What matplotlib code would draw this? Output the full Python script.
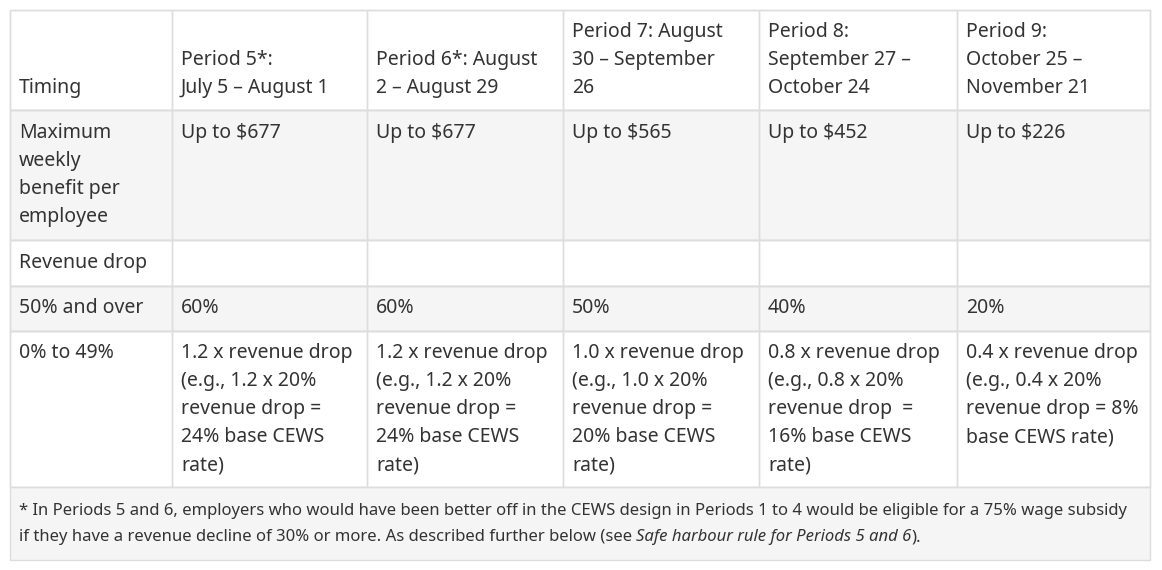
import matplotlib.pyplot as plt
from matplotlib.patches import Rectangle

headers = [['Timing'],
           ['Period 5*:', 'July 5 – August 1'],
           ['Period 6*: August', '2 – August 29'],
           ['Period 7: August', '30 – September', '26'],
           ['Period 8:', 'September 27 –', 'October 24'],
           ['Period 9:', 'October 25 –', 'November 21']]

row_labels = [['Maximum', 'weekly', 'benefit per', 'employee'],
              ['Revenue drop'],
              ['50% and over'],
              ['0% to 49%']]

max_benefit = ['Up to $677', 'Up to $677', 'Up to $565', 'Up to $452', 'Up to $226']
rate_over_50 = ['60%', '60%', '50%', '40%', '20%']
rate_under_50 = [
    ['1.2 x revenue drop', '(e.g., 1.2 x 20%', 'revenue drop =', '24% base CEWS', 'rate)'],
    ['1.2 x revenue drop', '(e.g., 1.2 x 20%', 'revenue drop =', '24% base CEWS', 'rate)'],
    ['1.0 x revenue drop', '(e.g., 1.0 x 20%', 'revenue drop =', '20% base CEWS', 'rate)'],
    ['0.8 x revenue drop', '(e.g., 0.8 x 20%', 'revenue drop  =', '16% base CEWS', 'rate)'],
    ['0.4 x revenue drop', '(e.g., 0.4 x 20%', 'revenue drop = 8%', 'base CEWS rate)'],
]

footer_line1 = ('* In Periods 5 and 6, employers who would have been better off in the CEWS design '
                'in Periods 1 to 4 would be eligible for a 75% wage subsidy')
footer_line2 = [('if they have a revenue decline of 30% or more. As described further below (see ', 'normal'),
                ('Safe harbour rule for Periods 5 and 6', 'italic'),
                (').', 'normal')]

col_x = [10, 172, 367, 563, 759, 957, 1150]
row_y = [10, 110, 240, 286, 331, 487, 560]
row_fill = ['white', '#f5f5f5', 'white', '#f5f5f5', 'white', '#f5f5f5']
border = '#dddddd'
ink = '#333333'
font = 'Noto Sans'
line_h = 28
body_size = 14.0
foot_size = 12.0

fig = plt.figure(figsize=(11.62, 5.70), dpi=100)
ax = fig.add_axes([0, 0, 1, 1])
ax.set_xlim(0, 1162)
ax.set_ylim(570, 0)
ax.axis('off')

for r in range(6):
    ax.add_patch(Rectangle((col_x[0], row_y[r]), col_x[-1] - col_x[0], row_y[r + 1] - row_y[r],
                           facecolor=row_fill[r], edgecolor=border, lw=1))
for r in range(5):
    for c in range(6):
        ax.add_patch(Rectangle((col_x[c], row_y[r]), col_x[c + 1] - col_x[c], row_y[r + 1] - row_y[r],
                               facecolor='none', edgecolor=border, lw=1))


def cell_lines(c, y0, lines, bold=False, bottom=False):
    n = len(lines)
    for i, s in enumerate(lines):
        y = (y0 - (n - 1 - i) * line_h) if bottom else (y0 + i * line_h)
        ax.text(col_x[c] + 9, y, s, fontsize=body_size, family=font, color=ink,
                weight='bold' if bold else 'normal', va='center', ha='left')


for c, h in enumerate(headers):
    cell_lines(c, 88, h, bold=True, bottom=True)
for r, lab in enumerate(row_labels):
    cell_lines(0, [133, 263, 308, 353][r], lab, bold=True)
for c in range(5):
    cell_lines(c + 1, 133, [max_benefit[c]])
    cell_lines(c + 1, 308, [rate_over_50[c]])
    cell_lines(c + 1, 353, rate_under_50[c])

ax.text(19, 511, footer_line1, fontsize=foot_size, family=font, color=ink, va='center')
fig.canvas.draw()
renderer = fig.canvas.get_renderer()
x = 19
for s, style in footer_line2:
    t = ax.text(x, 537, s, fontsize=foot_size, family=font, color=ink, va='center', style=style)
    bb = t.get_window_extent(renderer)
    x += bb.width

fig.savefig('out.png', dpi=100)
